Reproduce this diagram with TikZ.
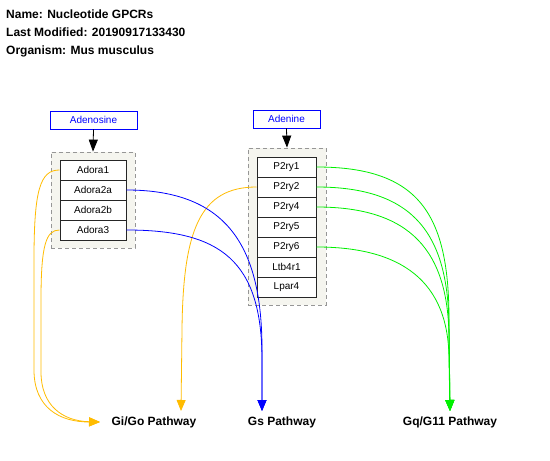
\documentclass[tikz,border=0pt]{standalone}
\usepackage{fontspec}
\setmainfont{Liberation Sans}
\usetikzlibrary{arrows.meta}
\definecolor{gorange}{RGB}{255,188,0}
\definecolor{gblue}{RGB}{0,0,255}
\definecolor{ggreen}{RGB}{0,240,0}
\definecolor{grpfill}{RGB}{245,245,239}
\definecolor{grpline}{RGB}{150,150,150}
\tikzset{
  titletext/.style={anchor=base west, inner sep=0pt, font=\bfseries\fontsize{12}{14}\selectfont},
  rowbox/.style={draw=black!85, line width=1pt, fill=white, minimum width=66pt, minimum height=20pt, inner sep=0pt, font=\fontsize{10}{12}\selectfont},
  rowboxb/.style={rowbox, minimum width=59pt},
  ligand/.style={draw=gblue, text=gblue, fill=white, line width=0.8pt, minimum height=18pt, inner sep=0pt, font=\fontsize{10}{12}\selectfont},
  grp/.style={draw=grpline, dash pattern=on 4pt off 3pt, fill=grpfill, line width=0.8pt, inner sep=0pt},
  pathway/.style={inner sep=0pt, font=\bfseries\fontsize{12}{14}\selectfont},
  tip/.style={-{Triangle[length=12pt,width=9pt]}},
  ptip/.style={-{Triangle[length=11pt,width=9pt]}},
  giedge/.style={draw=gorange, line width=0.8pt, ptip},
  gsedge/.style={draw=gblue, line width=0.8pt, ptip},
  gqedge/.style={draw=ggreen, line width=0.8pt, ptip},
}
\begin{document}
\begin{tikzpicture}[x=1pt,y=-1pt]
\useasboundingbox (0,0) rectangle (550,461);
\fill[white] (0,0) rectangle (550,461);

% titles
\node[titletext] (t1) at (6,18) {Name: Nucleotide GPCRs};
\node[titletext] (t2) at (6,36) {Last Modified: 20190917133430};
\node[titletext] (t3) at (6,54) {Organism: Mus musculus};

% groups
\node[grp, minimum width=84pt, minimum height=96pt] (g1) at (93,200) {};
\node[grp, minimum width=78pt, minimum height=157pt] (g2) at (287,226.5) {};

% ligands
\node[ligand, minimum width=87pt] (aden) at (93.5,120) {Adenosine};
\node[ligand, minimum width=67pt] (adne) at (286.5,119) {Adenine};

% rows group 1
\node[rowbox] (a1)  at (93,170) {Adora1};
\node[rowbox] (a2a) at (93,190) {Adora2a};
\node[rowbox] (a2b) at (93,210) {Adora2b};
\node[rowbox] (a3)  at (93,230) {Adora3};

% rows group 2
\node[rowboxb] (p1) at (286.5,167) {P2ry1};
\node[rowboxb] (p2) at (286.5,187) {P2ry2};
\node[rowboxb] (p4) at (286.5,207) {P2ry4};
\node[rowboxb] (p5) at (286.5,227) {P2ry5};
\node[rowboxb] (p6) at (286.5,247) {P2ry6};
\node[rowboxb] (l4) at (286.5,267) {Ltb4r1};
\node[rowboxb] (lp) at (286.5,287) {Lpar4};

% pathway labels
\node[pathway] (gigo) at (154,422) {Gi/Go Pathway};
\node[pathway] (gs)   at (282,422) {Gs Pathway};
\node[pathway] (gq)   at (450,422) {Gq/G11 Pathway};
\coordinate (gileft) at (100,422);
\coordinate (gitop) at (181,411);
\coordinate (gstop) at (262,411);
\coordinate (gqtop) at (450,411);

% ligand arrows
\draw[line width=0.8pt, tip] (aden.south) -- (g1.north);
\draw[line width=0.8pt, tip] (adne.south) -- (g2.north);

% Gi/Go edges
\draw[giedge] (a1.west) .. controls (40,170) and (34,190) .. (34,260) -- (34,370) .. controls (34,408) and (60,422) .. (gileft);
\draw[giedge] (a3.west) .. controls (46,230) and (41,245) .. (41,300) -- (41,372) .. controls (41,405) and (62,421) .. (gileft);
\draw[giedge] (p2.west) .. controls (200,187) and (183,230) .. (182,330) -- (gitop);

% Gs edges
\draw[gsedge] (a2a.east) .. controls (230,190) and (262,250) .. (262,350) -- (gstop);
\draw[gsedge] (a3.east) .. controls (220,230) and (262,260) .. (262,360) -- (gstop);

% Gq edges
\draw[gqedge] (p1.east) .. controls (420,167) and (449,215) .. (449,320) -- (gqtop);
\draw[gqedge] (p2.east) .. controls (415,187) and (449,235) .. (449,330) -- (gqtop);
\draw[gqedge] (p4.east) .. controls (410,207) and (449,250) .. (449,340) -- (gqtop);
\draw[gqedge] (p6.east) .. controls (400,247) and (449,280) .. (449,360) -- (gqtop);
\end{tikzpicture}
\end{document}
